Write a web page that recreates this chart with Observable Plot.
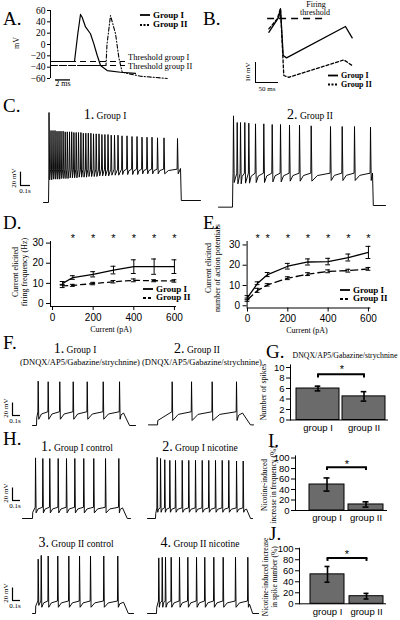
<!DOCTYPE html>
<html>
<head>
<meta charset="utf-8">
<script src="https://cdn.jsdelivr.net/npm/d3@7"></script>
<script src="https://cdn.jsdelivr.net/npm/@observablehq/plot@0.6"></script>
<style>
  html, body { margin: 0; padding: 0; background: #fff; }
  #root { position: relative; width: 400px; height: 620px; overflow: hidden; background: #fff; color: #000;
          font-family: "Liberation Serif", "Times New Roman", serif; }
  .plot { position: absolute; }
  .t { position: absolute; white-space: nowrap; line-height: 1; color: #000; }
</style>
</head>
<body>
<div id="root"></div>
<script>
// ================= DATA =================
// A. single action potentials (time in ms, membrane potential in mV)
const apTimeI  = [0, 3.2, 3.64, 4.0, 4.22, 4.67, 5.33, 5.78, 6.22, 6.67, 7.56, 9.33, 11.33];
const apVoltI  = [-30, -30, 19, 53, 48, 31, 19, 1, -19, -37, -46, -49, -51];
const apTimeII = [0, 7.4, 7.53, 8.0, 8.67, 9.11, 9.56, 12, 15.56];
const apVoltII = [-37, -37, 0, 51, 19, -23, -49, -56, -60];
const thresholdNames  = ["Threshold group I", "Threshold group II"];
const thresholdValues = [-30, -37];
const aTicks = [-60, -40, -20, 0, 20, 40, 60];

// B. after-hyperpolarisation (time in ms, mV relative to firing threshold)
const ahpTimeI  = [0.7, 22.4, 26, 31.9, 39.1, 167, 181.6];
const ahpVoltI  = [-6.9, 0.7, 4.9, -18.5, -19.7, -4, -9.7];
const ahpTimeII = [0.7, 18.9, 26, 33.2, 44.1, 163.4, 181.6];
const ahpVoltII = [-5.2, -0.2, 4.9, -28.5, -29.4, -20.7, -23.5];

// Spike trains: epoch = [step on, step off, decay, end] (s); levels = [rest, step level, threshold, plateau, end level] (mV)
// C1 group I
const c1Epoch = [0.05, 1.37, 0.008, 1.57];
const c1Levels = [-70, -36, -20, -19, -67];
const c1Spikes = [0.055, 0.075, 0.095, 0.115, 0.135, 0.155, 0.175, 0.196, 0.217, 0.238, 0.26, 0.282, 0.304, 0.327, 0.35, 0.374, 0.398, 0.423, 0.448, 0.474, 0.5, 0.527, 0.555, 0.584, 0.614, 0.645, 0.677, 0.71, 0.745, 0.785, 0.835, 0.885, 0.935, 0.985, 1.035, 1.085, 1.14, 1.205, 1.34];
const c1Peaks = [65, 38, 38, 38, 37, 37, 37, 37, 36, 36, 36, 36, 35, 35, 35, 35, 34, 34, 34, 34, 33, 33, 33, 32, 32, 32, 31, 31, 31, 30, 30, 29, 29, 28, 28, 28, 27, 27, 26];
const c1Troughs = [-36, -36, -35, -35, -35, -35, -34, -34, -34, -34, -33, -33, -33, -33, -32, -32, -32, -32, -31, -31, -31, -31, -30, -30, -30, -30, -29, -29, -29, -28, -28, -28, -28, -27, -27, -27, -27, -27, -27];
// C2 group II
const c2Epoch = [0.14, 1.54, 0.008, 1.67];
const c2Levels = [-77, -42, -26, -26, -74.5];
const c2Spikes = [0.15, 0.187, 0.22, 0.263, 0.303, 0.37, 0.453, 0.537, 0.62, 0.71, 0.81, 0.927, 1.12, 1.237, 1.36, 1.52];
const c2Peaks = [60, 50, 50, 50, 49, 48, 48, 47, 47, 46, 46, 45, 44, 44, 44, 43];
const c2Troughs = [-40, -42, -42, -41, -41, -40, -40, -39, -39, -38, -38, -38, -37, -37, -37, -37];
// F1 / F2 (synaptic blockers)
const f1Epoch = [0.05, 1.138, 0.075, 1.288];
const f1Levels = [-70, -58, -48, -50, -70];
const f1Spikes = [0.071, 0.196, 0.341, 0.509, 0.684, 0.884, 1.088];
const f1Peaks = [1, 0, 0, 0, 0, 0, 0];
const f1Troughs = [-60, -60, -60, -60, -60, -60, -60];
const f2Epoch = [0.113, 1.175, 0.1, 1.313];
const f2Levels = [-69, -62, -48, -50, -69];
const f2Spikes = [0.296, 0.538, 0.796, 1.1];
const f2Peaks = [0, 0, 0, 0];
const f2Troughs = [-62, -62, -62, -62];
// H1..H4 (control / nicotine)
const h1Epoch = [0.125, 1.25, 0.06, 1.35];
const h1Levels = [-70, -60, -52, -53, -70];
const h1Spikes = [0.163, 0.254, 0.341, 0.446, 0.55, 0.654, 0.766, 0.891, 1.038, 1.204];
const h1Peaks = [27, 26, 26, 26, 26, 26, 26, 26, 26, 26];
const h1Troughs = [-61, -61, -61, -61, -61, -61, -61, -61, -61, -61];
const h2Epoch = [0.1, 1.238, 0.05, 1.313];
const h2Levels = [-70, -62, -53, -55, -70];
const h2Spikes = [0.121, 0.163, 0.216, 0.279, 0.35, 0.434, 0.516, 0.6, 0.684, 0.766, 0.85, 0.934, 1.016, 1.113, 1.196];
const h2Peaks = [28, 26, 24, 23, 23, 23, 23, 23, 23, 23, 23, 23, 23, 22, 22];
const h2Troughs = [-60, -60, -60, -60, -60, -60, -60, -60, -60, -60, -60, -60, -60, -60, -60];
const h3Epoch = [0.0375, 1.138, 0.06, 1.263];
const h3Levels = [-70, -58, -50, -52, -70];
const h3Spikes = [0.071, 0.109, 0.196, 0.316, 0.454, 0.588, 0.725, 0.891, 1.066];
const h3Peaks = [17, 23, 22, 22, 22, 22, 22, 22, 22];
const h3Troughs = [-57, -60, -60, -60, -60, -60, -60, -60, -60];
const h4Epoch = [0.1125, 1.275, 0.04, 1.388];
const h4Levels = [-70, -60, -50, -55, -70];
const h4Spikes = [0.141, 0.184, 0.225, 0.296, 0.4, 0.504, 0.613, 0.716, 0.829, 0.946, 1.1, 1.254];
const h4Peaks = [19, 20, 20, 20, 20, 20, 20, 20, 20, 20, 20, 20];
const h4Troughs = [-60, -60, -60, -60, -60, -60, -60, -60, -60, -60, -60, -60];

// D. firing frequency vs current
const dCurrent = [50, 100, 200, 300, 400, 500, 600];
const dFreqI   = [10, 12.9, 14.5, 16.6, 18.3, 18.3, 18.3];
const dErrI    = [0.9, 0.9, 1.3, 1.9, 3.4, 3.8, 3.4];
const dFreqII  = [8.7, 9.0, 9.9, 10.8, 11.5, 11.3, 11.2];
const dErrII   = [0.8, 0.5, 0.6, 0.6, 0.7, 0.5, 0.6];
const dStars   = [100, 200, 300, 400, 500, 600];
const dTicksX  = [0, 200, 400, 600];
const dTicksY  = [0, 10, 20, 30];
// E. number of action potentials vs current
const eCurrent = [0, 50, 100, 200, 300, 400, 500, 600];
const eCountI  = [4, 11.1, 15.4, 19.5, 21.6, 21.8, 23.8, 26.3];
const eErrI    = [1, 0.7, 1.0, 1.4, 1.5, 1.6, 1.7, 3.0];
const eCountII = [3, 7.6, 10.3, 13.6, 15.6, 17, 17.3, 18.2];
const eErrII   = [0.8, 1, 0.6, 0.7, 0.7, 0.7, 0.7, 0.7];
const eStars   = [50, 100, 200, 300, 400, 500, 600];
// G, I, J bar charts
const groups = ["group I", "group II"];
const gSpikes = [6, 4.5];        const gErr = [0.45, 0.9];
const iFreqIncrease = [49.5, 11.5]; const iErr = [12.5, 5];
const jSpikeIncrease = [53.5, 13.8]; const jErr = [14.3, 5.1];
const gTicks = [0, 2, 4, 6, 8, 10];
const pctTicks = [0, 20, 40, 60, 80, 100];
// significance brackets [top, foot]
const gBracket = [8.7, 8.0];
const iBracket = [82.5, 76];
const jBracket = [83, 77];
// scale bars
const scaleMV = 20, scaleS = 0.1, aScaleMs = 2, bScaleMV = 10, bScaleMs = 50;

// ================= HELPERS =================
const SERIF = '"Liberation Serif","Times New Roman",serif';
const SANS = '"Liberation Sans",Arial,sans-serif';
const root = document.getElementById("root");
const style = (family, size) => ({background: "transparent", overflow: "visible", fontFamily: family, fontSize: size + "px", color: "#000"});

function put(svg, left, top) {
  svg.classList.add("plot");
  svg.style.left = left + "px";
  svg.style.top = top + "px";
  root.appendChild(svg);
}
function txt(html, x, y, o = {}) {
  const d = document.createElement("div");
  d.className = "t";
  d.innerHTML = html;
  d.style.left = x + "px";
  d.style.top = y + "px";
  d.style.fontSize = (o.size || 9) + "px";
  d.style.fontFamily = o.sans ? SANS : SERIF;
  if (o.bold) d.style.fontWeight = "bold";
  if (o.lh) d.style.lineHeight = o.lh + "px";
  d.style.textAlign = "center";
  d.style.transform = o.rotate ? "translate(-50%,-50%) rotate(-90deg)" : (o.anchor === "start" ? "translate(0,-50%)" : "translate(-50%,-50%)");
  root.appendChild(d);
}
function legend(x, y, dash, label, size = 8, lh = 7) {
  const d = document.createElement("div");
  d.className = "t";
  d.style.left = x + "px"; d.style.top = y + "px";
  d.style.transform = "translate(0,-50%)";
  d.style.font = `bold ${size}px/${lh}px ` + SERIF;
  d.innerHTML = `<svg width="13" height="4" style="vertical-align:middle;overflow:visible"><line x1="0" y1="2" x2="10" y2="2" stroke="#000" stroke-width="1.8" ${dash ? `stroke-dasharray="${dash}"` : ""}/></svg>${label}`;
  root.appendChild(d);
}
const rows = (ts, vs) => ts.map((t, i) => ({t, v: vs[i]}));

function train(epoch, levels, spikes, peaks, troughs) {
  const [on, off, decay, end] = epoch;
  const [rest, onLevel, thr, plateau, endLevel] = levels;
  const pts = [[0, rest], [on, rest], [on + 0.003, onLevel]];
  const push = (t, v) => { if (t > pts[pts.length - 1][0]) pts.push([t, v]); };
  spikes.forEach((s, i) => {
    push(s - 0.004, thr);
    push(s, peaks[i]);
    push(s + 0.007, troughs[i]);
    const last = i + 1 >= spikes.length;
    const next = last ? off : spikes[i + 1];
    const target = last ? plateau : thr;
    const gap = next - s - 0.011;
    if (gap > 0.03) push(s + 0.007 + gap * 0.3, troughs[i] + (target - troughs[i]) * 0.7);
  });
  push(off, plateau);
  push(off + decay, endLevel);
  push(end, endLevel);
  return pts.map(([t, v]) => ({t, v}));
}

// band: vertical placement of a row of traces (px) and its mV scale
function tracePlot(pts, left, right, L, pxPerSec, band, bar) {
  const width = right - left, height = band.bottom - band.top;
  const xd = [(left - L) / pxPerSec, (right - L) / pxPerSec];
  const yd = [band.refV - (band.bottom - band.refY) * band.mvPerPx, band.refV + (band.refY - band.top) * band.mvPerPx];
  const marks = [Plot.line(pts, {x: "t", y: "v", stroke: "#000", strokeWidth: 0.95})];
  if (bar) {
    const t0 = (bar[0] - L) / pxPerSec, v0 = band.refV + (band.refY - bar[1]) * band.mvPerPx;
    marks.push(Plot.ruleX([t0], {y1: v0, y2: v0 + scaleMV, strokeWidth: 1.2}));
    marks.push(Plot.ruleY([v0], {x1: t0, x2: t0 + scaleS, strokeWidth: 1.2}));
  }
  put(Plot.plot({width, height, margin: 0, style: style(SERIF, 8),
    x: {domain: xd, axis: null}, y: {domain: yd, axis: null}, marks}), left, band.top);
}

// ================= PANEL A =================
put(Plot.plot({
  width: 200, height: 90, marginLeft: 50, marginRight: 0, marginTop: 10, marginBottom: 12,
  style: style(SERIF, 9.5),
  x: {domain: [0, 20], axis: null},
  y: {domain: [-60, 60], ticks: aTicks, tickSize: 3, tickPadding: 2, label: null},
  marks: [
    Plot.ruleX([0], {y1: -60, y2: 60, strokeWidth: 1}),
    Plot.ruleY(thresholdValues, {x1: 0, x2: 10, strokeDasharray: "6,4", strokeWidth: 1.1}),
    Plot.line(rows(apTimeI, apVoltI), {x: "t", y: "v", strokeWidth: 1.2}),
    Plot.line(rows(apTimeII, apVoltII), {x: "t", y: "v", strokeWidth: 1.1, strokeDasharray: "4,2,1,2"}),
    Plot.ruleY([-62.5], {x1: 0.67, x2: 0.67 + aScaleMs, strokeWidth: 1.3})
  ]
}), 0, 0);

// ================= PANEL B =================
{
  const L = 268, msPerPx = 2.17, refY = 18, mvPerPx = 0.5, left = 240, right = 372, top = 0, bottom = 92;
  put(Plot.plot({
    width: right - left, height: bottom - top, margin: 0, style: style(SERIF, 8),
    x: {domain: [(left - L) * msPerPx, (right - L) * msPerPx], axis: null},
    y: {domain: [-(bottom - refY) * mvPerPx, (refY - top) * mvPerPx], axis: null},
    marks: [
      Plot.ruleY([0], {x1: -2, x2: 128, strokeDasharray: "7,5", strokeWidth: 1.4}),
      Plot.line(rows(ahpTimeI, ahpVoltI), {x: "t", y: "v", strokeWidth: 1.3}),
      Plot.line(rows(ahpTimeII, ahpVoltII), {x: "t", y: "v", strokeWidth: 1.3, strokeDasharray: "3,2"}),
      Plot.ruleX([-28.2], {y1: -32, y2: -32 + bScaleMV, strokeWidth: 1}),
      Plot.ruleY([-32], {x1: -28.2, x2: -28.2 + bScaleMs, strokeWidth: 1})
    ]
  }), left, top);
}

// ================= PANEL C =================
const bandC = {top: 95, bottom: 212, refY: 202, refV: -70, mvPerPx: 1.5};
tracePlot(train(c1Epoch, c1Levels, c1Spikes, c1Peaks, c1Troughs), 0, 205, 43, 100, bandC, [20, 185]);
tracePlot(train(c2Epoch, c2Levels, c2Spikes, c2Peaks, c2Troughs), 205, 400, 218, 100, bandC, null);

// ================= PANEL D / E =================
function errMarks(data, capHalf, sw) {
  return [
    Plot.ruleX(data, {x: "c", y1: d => d.m - d.e, y2: d => d.m + d.e, strokeWidth: sw}),
    Plot.ruleY(data, {y: d => d.m + d.e, x1: d => d.c - capHalf, x2: d => d.c + capHalf, strokeWidth: sw}),
    Plot.ruleY(data, {y: d => d.m - d.e, x1: d => d.c - capHalf, x2: d => d.c + capHalf, strokeWidth: sw})
  ];
}
function curvePanel({cur, mI, eI, mII, eII, stars, starY, left, top, mL, mR, xd, yd, xEnd, dashII}) {
  const rI = cur.map((c, i) => ({c, m: mI[i], e: eI[i]}));
  const rII = cur.map((c, i) => ({c, m: mII[i], e: eII[i]}));
  put(Plot.plot({
    width: 200, height: 111, marginLeft: mL, marginRight: mR, marginTop: 16, marginBottom: 111 - 16 - (yd.px),
    style: style(SANS, 10),
    x: {domain: xd, ticks: dTicksX, tickSize: 4, tickPadding: 3, label: null},
    y: {domain: yd.d, ticks: dTicksY, tickSize: 4, tickPadding: 3, label: null},
    marks: [
      Plot.ruleX([xd[0]], {y1: yd.d[0], y2: yd.d[1], strokeWidth: 1}),
      Plot.ruleY([yd.d[0]], {x1: xd[0], x2: xEnd, strokeWidth: 1}),
      Plot.line(rII, {x: "c", y: "m", strokeWidth: 1.3, strokeDasharray: dashII}),
      Plot.line(rI, {x: "c", y: "m", strokeWidth: 1.3}),
      ...errMarks(rII, 12, 1),
      ...errMarks(rI, 12, 1),
      Plot.text(stars, {x: d => d, y: starY, text: () => "*", fontSize: 11, fill: "#000", fontFamily: SANS})
    ]
  }), left, top);
}
curvePanel({cur: dCurrent, mI: dFreqI, eI: dErrI, mII: dFreqII, eII: dErrII, stars: dStars, starY: 32.4,
  left: 0, top: 225, mL: 50, mR: 22, xd: [-10, 620], yd: {d: [-1.5, 30.8], px: 65}, xEnd: 610, dashII: "5,4"});
curvePanel({cur: eCurrent, mI: eCountI, eI: eErrI, mII: eCountII, eII: eErrII, stars: eStars, starY: 33.2,
  left: 200, top: 225, mL: 46.6, mR: 26, xd: [-2, 630], yd: {d: [-1.1, 31.7], px: 66.5}, xEnd: 612, dashII: "7,4"});

// ================= PANEL F =================
const bandF = {top: 372, bottom: 432, refY: 425, refV: -70, mvPerPx: 1.6};
tracePlot(train(f1Epoch, f1Levels, f1Spikes, f1Peaks, f1Troughs), 0, 142, 32, 80, bandF, [12, 415]);
tracePlot(train(f2Epoch, f2Levels, f2Spikes, f2Peaks, f2Troughs), 142, 262, 148, 80, bandF, null);

// ================= PANEL H =================
const bandH1 = {top: 450, bottom: 522, refY: 518, refV: -70, mvPerPx: 1.6};
const bandH3 = {top: 546, bottom: 618, refY: 613, refV: -70, mvPerPx: 1.6};
tracePlot(train(h1Epoch, h1Levels, h1Spikes, h1Peaks, h1Troughs), 0, 140, 22, 80, bandH1, [12, 500]);
tracePlot(train(h2Epoch, h2Levels, h2Spikes, h2Peaks, h2Troughs), 140, 262, 147, 80, bandH1, null);
tracePlot(train(h3Epoch, h3Levels, h3Spikes, h3Peaks, h3Troughs), 0, 140, 32, 80, bandH3, [12, 600]);
tracePlot(train(h4Epoch, h4Levels, h4Spikes, h4Peaks, h4Troughs), 140, 262, 147, 80, bandH3, null);

// ================= PANELS G, I, J =================
function barPanel({values, errs, bracket, left, top, height, mL, mR, mT, mB, yd, ticks, band, capInset}) {
  const data = groups.map((g, i) => ({g, v: values[i], e: errs[i]}));
  put(Plot.plot({
    width: 150, height, marginLeft: mL, marginRight: mR, marginTop: mT, marginBottom: mB,
    style: style(SANS, 9.5),
    x: {domain: groups, paddingInner: band[0], paddingOuter: band[1], align: band[2], tickSize: 0, tickPadding: 4, label: null},
    y: {domain: yd, ticks, tickSize: 4, tickPadding: 2, label: null, line: true},
    marks: [
      Plot.barY(data, {x: "g", y: "v", fill: "#6b6b6b", stroke: "#000", strokeWidth: 1}),
      Plot.ruleY([yd[0]], {strokeWidth: 1}),
      Plot.ruleX(data, {x: "g", y1: d => d.v - d.e, y2: d => d.v + d.e, strokeWidth: 1.6}),
      Plot.ruleY(data, {x1: "g", x2: "g", y: d => d.v + d.e, insetLeft: capInset, insetRight: capInset, strokeWidth: 1.6}),
      Plot.ruleY(data, {x1: "g", x2: "g", y: d => d.v - d.e, insetLeft: capInset, insetRight: capInset, strokeWidth: 1.6}),
      Plot.line(groups.map(g => ({g, y: bracket[0]})), {x: "g", y: "y", strokeWidth: 2}),
      Plot.ruleX(groups, {x: d => d, y1: bracket[1], y2: bracket[0], strokeWidth: 2})
    ]
  }), left, top);
}
barPanel({values: gSpikes, errs: gErr, bracket: gBracket, left: 250, top: 350, height: 90, mL: 40, mR: 12, mT: 14.4, mB: 20.5,
  yd: [0, 10.5], ticks: gTicks, band: [0.065, 0.086, 0.625], capInset: 18.7});
barPanel({values: iFreqIncrease, errs: iErr, bracket: iBracket, left: 250, top: 440, height: 90, mL: 45, mR: 13, mT: 15.4, mB: 20,
  yd: [0, 104], ticks: pctTicks, band: [0.103, 0.23, 0.78], capInset: 14.5});
barPanel({values: jSpikeIncrease, errs: jErr, bracket: jBracket, left: 250, top: 535, height: 85, mL: 49, mR: 14, mT: 12.7, mB: 16.7,
  yd: [0, 101], ticks: pctTicks, band: [0.127, 0.165, 0.77], capInset: 14.5});

// ================= TEXT =================
[["A.", 3, 18], ["B.", 203, 18], ["C.", 3, 105], ["D.", 3, 222], ["E.", 203, 222], ["F.", 3, 342],
 ["G.", 266, 351], ["H.", 3, 438], ["I.", 268, 440], ["J.", 269, 533]].forEach(([s, x, y]) => txt(s, x, y, {size: 19, anchor: "start"}));

function title(num, name, cx, cy) {
  txt(`<span style="font-size:14px">${num}</span> <span style="font-size:9.5px">${name}</span>`, cx, cy, {size: 9.5});
}
title("1.", "Group I", 105, 115);
title("2.", "Group II", 310, 115);
title("1.", "Group I", 75, 349);
title("2.", "Group II", 197, 349);
txt("(DNQX/AP5/Gabazine/strychnine)", 80, 362, {size: 8.5});
txt("(DNQX/AP5/Gabazine/strychnine)", 202, 362, {size: 8.5});
title("1.", "Group I control", 77, 447);
title("2.", "Group I nicotine", 200, 447);
title("3.", "Group II control", 76, 543);
title("4.", "Group II nicotine", 200, 543);

// A
txt(thresholdNames[0], 128, 57, {size: 8.5, anchor: "start"});
txt(thresholdNames[1], 128, 66, {size: 8.5, anchor: "start"});
txt("mV", 17, 43, {size: 8, rotate: true});
txt("2 ms", 63, 84, {size: 8});
legend(140, 14.5, null, "Group I", 9, 8);
legend(140, 24, "2,1.5", "Group II", 9, 8);
// B
txt("Firing", 316, 5, {size: 8});
txt("threshold", 315, 12.5, {size: 8});
txt("10 mV", 248, 72, {size: 7, rotate: true});
txt("50 ms", 267, 89, {size: 7});
legend(328, 75, null, "Group I", 8, 7);
legend(328, 83.5, "2,1.5", "Group II", 8, 7);
// trace scale bars
txt("20 mV", 14, 178, {size: 7, rotate: true}); txt("0.1s", 25, 191, {size: 7});
txt("20 mV", 6, 408, {size: 7, rotate: true});  txt("0.1s", 15, 421, {size: 7});
txt("20 mV", 6, 493, {size: 7, rotate: true});  txt("0.1s", 15, 506, {size: 7});
txt("20 mV", 6, 593, {size: 7, rotate: true});  txt("0.1s", 15, 606, {size: 7});
// D / E
txt("Current elicited<br>firing frequency (Hz)", 19.5, 272, {size: 8, rotate: true, lh: 9});
txt("Current (pA)", 111, 330, {size: 8});
legend(143, 288.5, null, "Group I", 9, 8);
legend(143, 297, "3,2", "Group II", 9, 8);
txt("Current elicited<br>number of action potentials", 212.5, 268, {size: 8, rotate: true, lh: 9});
txt("Current (pA)", 307, 331, {size: 8});
legend(340, 289.5, null, "Group I", 9, 8);
legend(340, 298, "3,2", "Group II", 9, 8);
// G / I / J
txt("DNQX/AP5/Gabazine/strychnine", 345, 356, {size: 7.8});
txt("Number of spikes", 264, 392, {size: 8, rotate: true});
txt("Nicotine-induced<br>increase in frequency (%)", 269, 485, {size: 7.5, rotate: true, lh: 8.5});
txt("Nicotine-induced increase<br>in spike number (%)", 270, 577, {size: 7.5, rotate: true, lh: 8.5});
txt("*", 342, 369, {size: 11, sans: true});
txt("*", 347, 464, {size: 11, sans: true});
txt("*", 347, 554, {size: 11, sans: true});
</script>
</body>
</html>
